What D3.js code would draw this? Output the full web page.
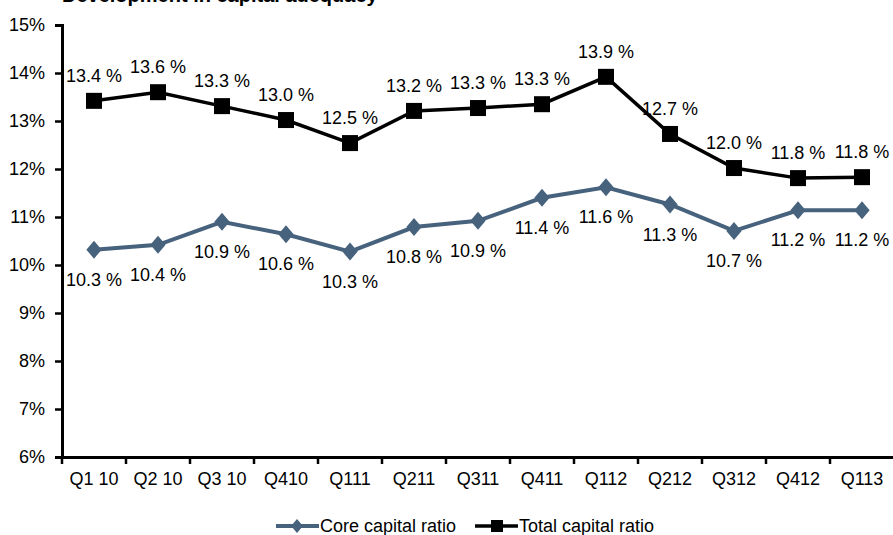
<!DOCTYPE html>
<html>
<head>
<meta charset="utf-8">
<script src="https://cdn.jsdelivr.net/npm/d3@7"></script>
<style>
  body { margin: 0; background: #fff; }
  svg { display: block; font-family: "Liberation Sans", Arial, sans-serif; }
</style>
</head>
<body>
<div id="chart"></div>
<script>
const quarters = ["Q1 10", "Q2 10", "Q3 10", "Q410", "Q111", "Q211", "Q311", "Q411", "Q112", "Q212", "Q312", "Q412", "Q113"];
const coreRatio = [10.32, 10.42, 10.9, 10.64, 10.28, 10.79, 10.92, 11.4, 11.62, 11.26, 10.71, 11.14, 11.14];
const totalRatio = [13.42, 13.6, 13.31, 13.02, 12.54, 13.21, 13.27, 13.35, 13.92, 12.73, 12.02, 11.81, 11.83];
const coreLabels = ["10.3 %", "10.4 %", "10.9 %", "10.6 %", "10.3 %", "10.8 %", "10.9 %", "11.4 %", "11.6 %", "11.3 %", "10.7 %", "11.2 %", "11.2 %"];
const totalLabels = ["13.4 %", "13.6 %", "13.3 %", "13.0 %", "12.5 %", "13.2 %", "13.3 %", "13.3 %", "13.9 %", "12.7 %", "12.0 %", "11.8 %", "11.8 %"];
const yTicks = [6, 7, 8, 9, 10, 11, 12, 13, 14, 15];

const width = 893, height = 535;
const margin = { top: 25, right: -1, bottom: 78, left: 62 };
const coreColor = "#47627d";

const svg = d3.select("#chart")
  .append("svg")
  .attr("width", width)
  .attr("height", height);

// title, cut off at the top edge like the original
svg.append("text")
  .attr("x", 62)
  .attr("y", 2)
  .attr("font-size", 20)
  .attr("font-weight", "bold")
  .text("Development in capital adequacy");

const x = d3.scaleBand()
  .domain(quarters)
  .range([margin.left, width - margin.right]);

const y = d3.scaleLinear()
  .domain([6, 15])
  .range([height - margin.bottom, margin.top]);

const cx = d => x(d) + x.bandwidth() / 2;

// y axis
const yAxis = svg.append("g")
  .attr("transform", `translate(${margin.left},0)`)
  .call(d3.axisLeft(y).tickValues(yTicks).tickFormat(d => d + "%").tickSize(7).tickPadding(10));
yAxis.select(".domain").attr("stroke-width", 3);
yAxis.selectAll(".tick line").attr("stroke-width", 2.5);
yAxis.selectAll("text").attr("font-size", 18).attr("font-family", null).attr("fill", "#000");

// x axis: labels centred in bands, ticks on band edges
const xAxis = svg.append("g")
  .attr("transform", `translate(0,${y(6)})`)
  .call(d3.axisBottom(x).tickSize(0).tickPadding(15));
xAxis.select(".domain").attr("stroke-width", 3);
xAxis.selectAll("text").attr("font-size", 18).attr("font-family", null).attr("fill", "#000");

svg.append("g")
  .selectAll("line")
  .data(quarters)
  .join("line")
  .attr("x1", d => x(d)).attr("x2", d => x(d))
  .attr("y1", y(6)).attr("y2", y(6) + 7)
  .attr("stroke", "#000")
  .attr("stroke-width", 2.5);

const line = d3.line()
  .x(d => cx(d.q))
  .y(d => y(d.v));

const coreData = quarters.map((q, i) => ({ q, v: coreRatio[i], label: coreLabels[i] }));
const totalData = quarters.map((q, i) => ({ q, v: totalRatio[i], label: totalLabels[i] }));

// core capital ratio
svg.append("path")
  .datum(coreData)
  .attr("fill", "none")
  .attr("stroke", coreColor)
  .attr("stroke-width", 4)
  .attr("d", line);

const diamond = (s) => `M0,${-s}L${s * 0.85},0L0,${s}L${-s * 0.85},0Z`;

svg.append("g")
  .selectAll("path")
  .data(coreData)
  .join("path")
  .attr("transform", d => `translate(${cx(d.q)},${y(d.v)})`)
  .attr("d", diamond(9))
  .attr("fill", coreColor);

svg.append("g")
  .selectAll("text")
  .data(coreData)
  .join("text")
  .attr("x", d => cx(d.q))
  .attr("y", d => y(d.v) + 36)
  .attr("text-anchor", "middle")
  .attr("font-size", 18)
  .text(d => d.label);

// total capital ratio
svg.append("path")
  .datum(totalData)
  .attr("fill", "none")
  .attr("stroke", "#000")
  .attr("stroke-width", 3.5)
  .attr("d", line);

svg.append("g")
  .selectAll("rect")
  .data(totalData)
  .join("rect")
  .attr("x", d => cx(d.q) - 8)
  .attr("y", d => y(d.v) - 8)
  .attr("width", 16)
  .attr("height", 16)
  .attr("fill", "#000");

svg.append("g")
  .selectAll("text")
  .data(totalData)
  .join("text")
  .attr("x", d => cx(d.q))
  .attr("y", d => y(d.v) - 19)
  .attr("text-anchor", "middle")
  .attr("font-size", 18)
  .text(d => d.label);

// legend
const legend = svg.append("g").attr("transform", "translate(0,526)");

legend.append("line")
  .attr("x1", 276).attr("x2", 319)
  .attr("stroke", coreColor).attr("stroke-width", 4);
legend.append("path")
  .attr("transform", "translate(297,0)")
  .attr("d", diamond(7))
  .attr("fill", coreColor);
legend.append("text")
  .attr("x", 320).attr("y", 6)
  .attr("font-size", 18)
  .text("Core capital ratio");

legend.append("line")
  .attr("x1", 475).attr("x2", 518)
  .attr("stroke", "#000").attr("stroke-width", 3.5);
legend.append("rect")
  .attr("x", 491).attr("y", -6)
  .attr("width", 12).attr("height", 12)
  .attr("fill", "#000");
legend.append("text")
  .attr("x", 519).attr("y", 6)
  .attr("font-size", 18)
  .text("Total capital ratio");
</script>
</body>
</html>
